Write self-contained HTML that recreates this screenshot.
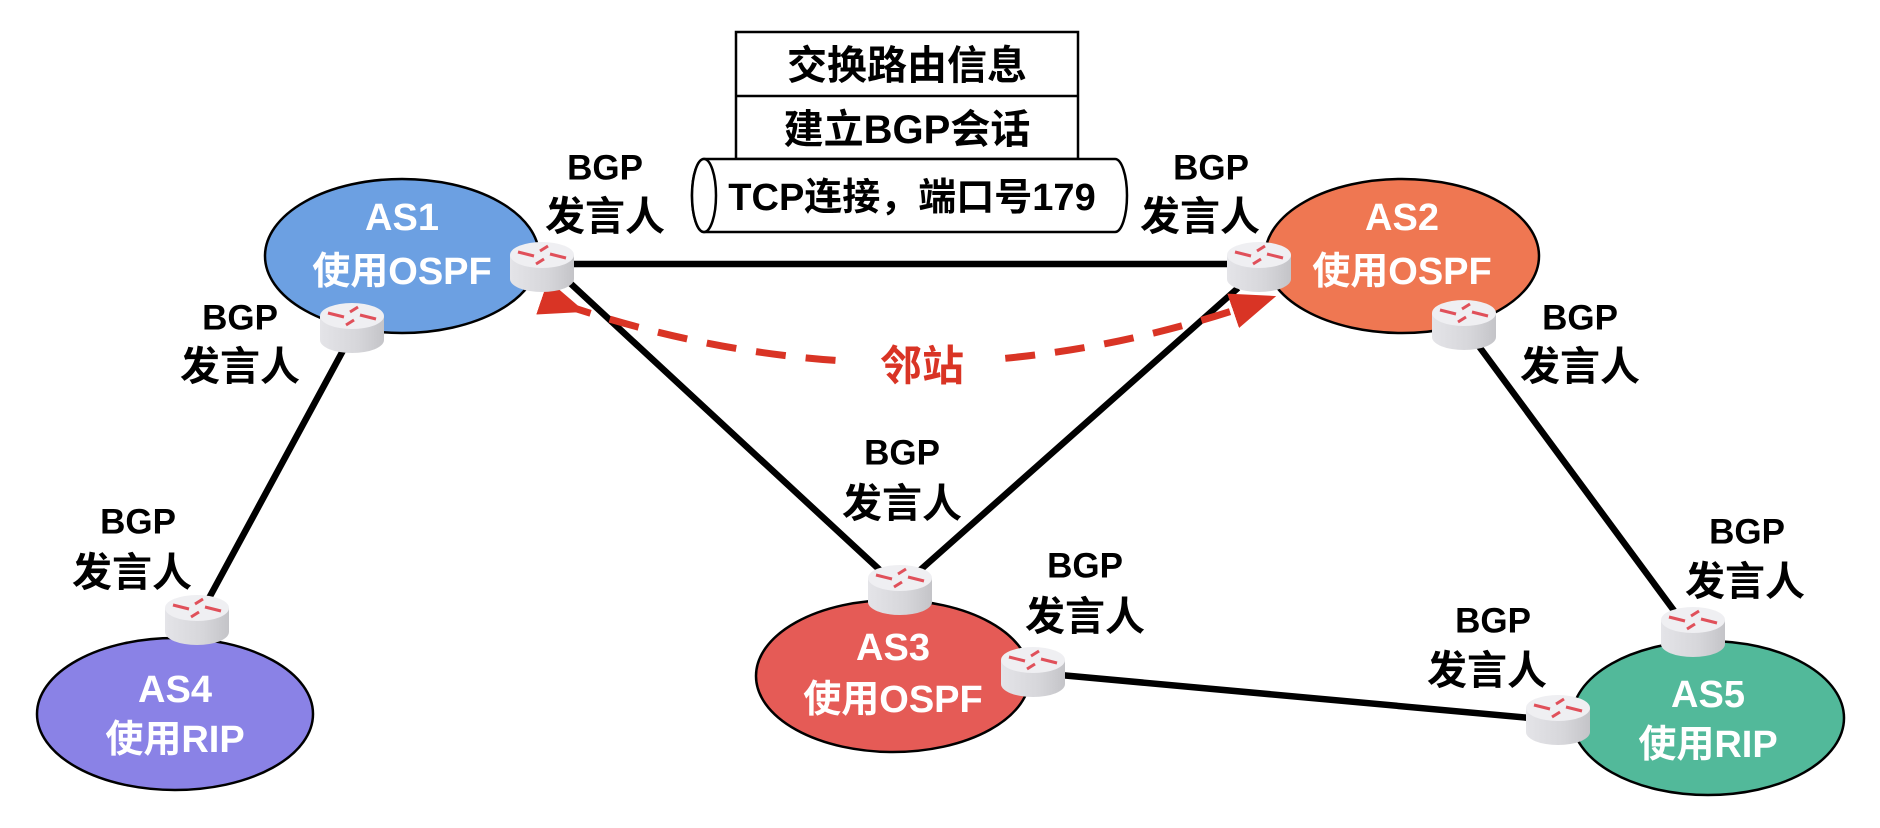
<!DOCTYPE html>
<html><head><meta charset="utf-8"><style>
html,body{margin:0;padding:0;background:#fff;}
svg{display:block;}
text{font-family:"Liberation Sans","Noto Sans CJK SC",sans-serif;font-weight:bold;text-anchor:middle;dominant-baseline:central;}
</style></head><body>
<svg width="1880" height="828" viewBox="0 0 1880 828" xmlns="http://www.w3.org/2000/svg">
<defs>
<linearGradient id="bd" x1="0" x2="1" y1="0" y2="0">
<stop offset="0" stop-color="#e4e4e8"/><stop offset="0.6" stop-color="#d6d6da"/><stop offset="1" stop-color="#c4c4c8"/></linearGradient>
<g id="rt">
<path d="M-32,0 L-32,24 A32,13 0 0 0 32,24 L32,0 Z" fill="url(#bd)"/>
<ellipse cx="0" cy="0" rx="32" ry="13" fill="#efeff2"/>
<g stroke="#e0505a" stroke-width="3" fill="none">
<path d="M-24,-3 L-8,1"/><path d="M24,3 L8,-1"/><path d="M-2,-4 L6,-9"/><path d="M2,4 L-6,9"/>
</g>
</g>
<marker id="ah" markerWidth="7" markerHeight="6" refX="3" refY="3" orient="auto" markerUnits="strokeWidth">
<path d="M0,0.4 L6.5,3 L0,5.6 Z" fill="#d93425"/></marker>
</defs>

<ellipse cx="402" cy="256" rx="137" ry="77" fill="#6ca0e2" stroke="#000" stroke-width="2.5"/>
<ellipse cx="1402" cy="256" rx="137" ry="77" fill="#ef7752" stroke="#000" stroke-width="2.5"/>
<ellipse cx="893" cy="676" rx="137" ry="76" fill="#e55b56" stroke="#000" stroke-width="2.5"/>
<ellipse cx="175" cy="714" rx="138" ry="76" fill="#8a82e6" stroke="#000" stroke-width="2.5"/>
<ellipse cx="1708" cy="718" rx="136" ry="77" fill="#52b99a" stroke="#000" stroke-width="2.5"/>

<g stroke="#000" stroke-width="6.5" fill="none">
<line x1="570" y1="264" x2="1232" y2="264"/>
<line x1="570" y1="283" x2="882" y2="572"/>
<line x1="1238" y1="288" x2="918" y2="572"/>
<line x1="346" y1="345" x2="208" y2="600"/>
<line x1="1478" y1="345" x2="1675" y2="612"/>
<line x1="1060" y1="675" x2="1530" y2="718"/>
</g>

<path d="M562,304 Q908,422 1253,304" stroke="#d93425" stroke-width="7" fill="none" stroke-dasharray="30,20" marker-start="url(#ah)" marker-end="url(#ah)"/>
<rect x="848" y="338" width="150" height="56" fill="#fff"/>
<text x="922" y="366" font-size="42" fill="#d93425">邻站</text>

<use href="#rt" x="542" y="255"/>
<use href="#rt" x="352" y="316"/>
<use href="#rt" x="1259" y="255"/>
<use href="#rt" x="1464" y="313"/>
<use href="#rt" x="900" y="578"/>
<use href="#rt" x="1033" y="660"/>
<use href="#rt" x="197" y="608"/>
<use href="#rt" x="1693" y="620"/>
<use href="#rt" x="1558" y="708"/>

<g fill="#fff">
<text x="402" y="218" font-size="38">AS1</text><text x="402" y="272" font-size="38">使用OSPF</text>
<text x="1402" y="218" font-size="38">AS2</text><text x="1402" y="272" font-size="38">使用OSPF</text>
<text x="893" y="648" font-size="38">AS3</text><text x="893" y="700" font-size="38">使用OSPF</text>
<text x="175" y="690" font-size="38">AS4</text><text x="175" y="740" font-size="38">使用RIP</text>
<text x="1708" y="695" font-size="38">AS5</text><text x="1708" y="745" font-size="38">使用RIP</text>
</g>

<g fill="#000">
<text x="605" y="168" font-size="35">BGP</text><text x="605" y="217" font-size="40">发言人</text>
<text x="1211" y="168" font-size="35">BGP</text><text x="1200" y="217" font-size="40">发言人</text>
<text x="240" y="318" font-size="35">BGP</text><text x="240" y="367" font-size="40">发言人</text>
<text x="138" y="522" font-size="35">BGP</text><text x="132" y="573" font-size="40">发言人</text>
<text x="902" y="453" font-size="35">BGP</text><text x="902" y="504" font-size="40">发言人</text>
<text x="1085" y="566" font-size="35">BGP</text><text x="1085" y="617" font-size="40">发言人</text>
<text x="1580" y="318" font-size="35">BGP</text><text x="1580" y="367" font-size="40">发言人</text>
<text x="1747" y="532" font-size="35">BGP</text><text x="1745" y="582" font-size="40">发言人</text>
<text x="1493" y="621" font-size="35">BGP</text><text x="1487" y="671" font-size="40">发言人</text>
</g>

<rect x="736" y="32" width="342" height="127" fill="#fff" stroke="#000" stroke-width="2.5"/>
<line x1="736" y1="96" x2="1078" y2="96" stroke="#000" stroke-width="2.5"/>
<text x="907" y="66" font-size="40">交换路由信息</text>
<text x="907" y="130" font-size="40">建立BGP会话</text>
<path d="M704,159 L1115,159 A12,36.5 0 0 1 1115,232 L704,232 A12,36.5 0 0 1 704,159 Z" fill="#fff" stroke="#000" stroke-width="2.5"/>
<ellipse cx="704" cy="195.5" rx="12" ry="36.5" fill="#fff" stroke="#000" stroke-width="2.5"/>
<text x="912" y="198" font-size="38">TCP连接，端口号179</text>
</svg>
</body></html>
